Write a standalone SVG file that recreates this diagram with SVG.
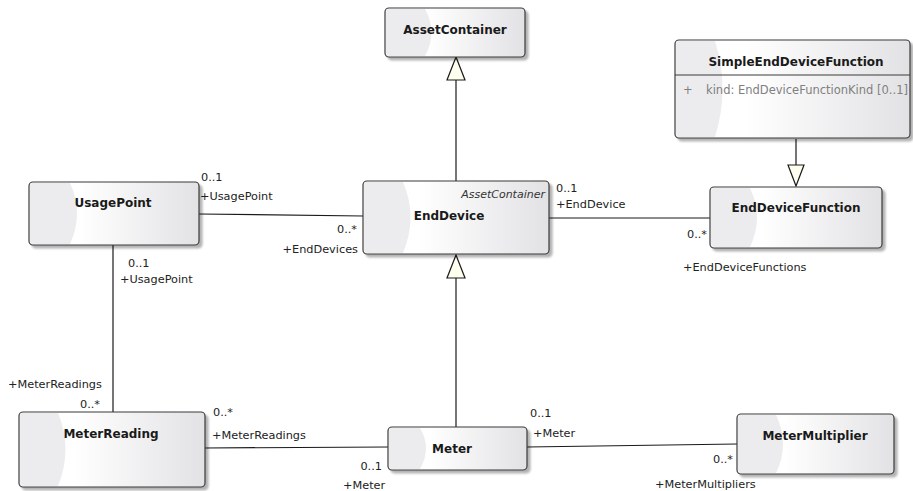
<svg xmlns="http://www.w3.org/2000/svg" width="913" height="491" viewBox="0 0 913 491">
<defs>
<linearGradient id="g" x1="0" y1="0" x2="1" y2="0">
<stop offset="0" stop-color="#ffffff"/>
<stop offset="0.3" stop-color="#ffffff"/>
<stop offset="1" stop-color="#e2e2e5"/>
</linearGradient>
<filter id="sh" x="-10%" y="-10%" width="130%" height="140%">
<feGaussianBlur in="SourceAlpha" stdDeviation="1.2"/>
<feOffset dx="3" dy="3" result="b"/>
<feComponentTransfer><feFuncA type="linear" slope="0.3"/></feComponentTransfer>
<feMerge><feMergeNode/><feMergeNode in="SourceGraphic"/></feMerge>
</filter>
</defs>
<style>
.box{fill:url(#g);stroke:#3a3a3a;stroke-width:1.2;filter:url(#sh)}
.sw{fill:#ececee}
.t{font-family:"DejaVu Sans",sans-serif;font-weight:bold;font-size:12px;fill:#1a1a1a;text-anchor:middle}
.l{font-family:"DejaVu Sans",sans-serif;font-size:11.3px;fill:#222}
.r{text-anchor:end}
.a{font-family:"DejaVu Sans",sans-serif;font-size:11.5px;fill:#808080}
.i{font-family:"DejaVu Sans",sans-serif;font-style:italic;font-size:11px;fill:#333;text-anchor:end}
.c{stroke:#1a1a1a;stroke-width:1.2;fill:none}
.tri{fill:#fffff0;stroke:#1a1a1a;stroke-width:1.2}
</style>
<g id="connectors">
<line class="c" x1="456" y1="181" x2="456" y2="80"/>
<polygon class="tri" points="456,57 447,80 465,80"/>
<line class="c" x1="456" y1="428" x2="456" y2="278"/>
<polygon class="tri" points="456,255 447,278 465,278"/>
<line class="c" x1="796" y1="139" x2="796" y2="165"/>
<polygon class="tri" points="796,186 788,165 804,165"/>
<line class="c" x1="199" y1="214" x2="363" y2="216"/>
<line class="c" x1="549" y1="218" x2="710" y2="218"/>
<line class="c" x1="113" y1="245" x2="113" y2="412"/>
<line class="c" x1="205" y1="448" x2="388" y2="447"/>
<line class="c" x1="527" y1="447" x2="737" y2="444"/>
<text class="l" x="201" y="181">0..1</text>
<text class="l" x="200" y="200">+UsagePoint</text>
<text class="l r" x="357" y="233">0..*</text>
<text class="l r" x="358" y="253">+EndDevices</text>
<text class="l" x="556" y="192">0..1</text>
<text class="l" x="556" y="208">+EndDevice</text>
<text class="l" x="687" y="238">0..*</text>
<text class="l" x="683" y="271">+EndDeviceFunctions</text>
<text class="l" x="128" y="267">0..1</text>
<text class="l" x="120" y="283">+UsagePoint</text>
<text class="l" x="8" y="388">+MeterReadings</text>
<text class="l" x="80" y="408">0..*</text>
<text class="l" x="213" y="416">0..*</text>
<text class="l" x="212" y="439">+MeterReadings</text>
<text class="l" x="530" y="417">0..1</text>
<text class="l" x="533" y="437">+Meter</text>
<text class="l r" x="382" y="470">0..1</text>
<text class="l" x="343" y="489">+Meter</text>
<text class="l r" x="733" y="463">0..*</text>
<text class="l" x="655" y="488">+MeterMultipliers</text>
</g>
<g id="AssetContainer">
<rect class="box" x="385" y="8" width="140" height="49" rx="4"/>
<path class="sw" d="M389,9 H425 Q438,32 425,56 H389 Q386,56 386,52 V13 Q386,9 389,9 Z"/>
<text class="t" x="455" y="34">AssetContainer</text>
</g>
<g id="SimpleEndDeviceFunction">
<rect class="box" x="675" y="40" width="235" height="98" rx="4"/>
<path class="sw" d="M679,41 H715 Q730,89 715,137 H679 Q676,137 676,133 V45 Q676,41 679,41 Z"/>
<line x1="675" y1="75" x2="910" y2="75" stroke="#3a3a3a" stroke-width="1"/>
<text class="t" x="796" y="66">SimpleEndDeviceFunction</text>
<text class="a" x="683" y="94">+</text>
<text class="a" x="706" y="94">kind: EndDeviceFunctionKind [0..1]</text>
</g>
<g id="UsagePoint">
<rect class="box" x="29" y="182" width="170" height="63" rx="4"/>
<path class="sw" d="M33,183 H70 Q84,213 70,244 H33 Q30,244 30,240 V187 Q30,183 33,183 Z"/>
<text class="t" x="113" y="207">UsagePoint</text>
</g>
<g id="EndDevice">
<rect class="box" x="363" y="181" width="186" height="73" rx="4"/>
<path class="sw" d="M367,182 H403 Q418,217 403,253 H367 Q364,253 364,249 V186 Q364,182 367,182 Z"/>
<text class="i" x="545" y="198">AssetContainer</text>
<text class="t" x="449" y="220">EndDevice</text>
</g>
<g id="EndDeviceFunction">
<rect class="box" x="710" y="187" width="172" height="61" rx="4"/>
<path class="sw" d="M714,188 H750 Q764,217 750,247 H714 Q711,247 711,243 V192 Q711,188 714,188 Z"/>
<text class="t" x="796" y="212">EndDeviceFunction</text>
</g>
<g id="MeterReading">
<rect class="box" x="19" y="412" width="186" height="75" rx="4"/>
<path class="sw" d="M23,413 H58 Q73,449 58,486 H23 Q20,486 20,482 V417 Q20,413 23,413 Z"/>
<text class="t" x="111" y="438">MeterReading</text>
</g>
<g id="Meter">
<rect class="box" x="388" y="427" width="139" height="43" rx="4"/>
<path class="sw" d="M392,428 H420 Q432,448 420,469 H392 Q389,469 389,465 V432 Q389,428 392,428 Z"/>
<text class="t" x="452" y="453">Meter</text>
</g>
<g id="MeterMultiplier">
<rect class="box" x="737" y="414" width="157" height="60" rx="4"/>
<path class="sw" d="M741,415 H776 Q790,444 776,473 H741 Q738,473 738,469 V419 Q738,415 741,415 Z"/>
<text class="t" x="815" y="440">MeterMultiplier</text>
</g>
</svg>
